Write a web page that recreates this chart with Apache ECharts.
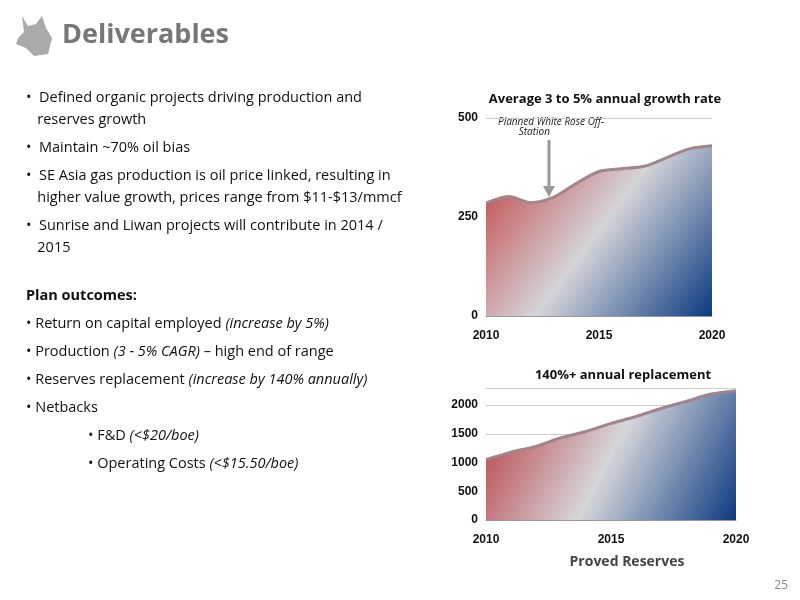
<!DOCTYPE html>
<html><head><meta charset="utf-8">
<script src="https://cdn.jsdelivr.net/npm/echarts@6/dist/echarts.min.js"></script>
<style>
body{margin:0;width:800px;height:600px;background:#fff;font-family:"Open Sans","Noto Sans",sans-serif;overflow:hidden}
#c{position:absolute;left:0;top:0;width:800px;height:600px}
.t{position:absolute;color:#111;font-size:14.5px;line-height:22px}
.h{position:absolute;left:62px;top:14px;font-size:27px;font-weight:bold;color:#777;font-family:"Open Sans",sans-serif}
</style></head><body>
<div id="c"></div>
<div class="h">Deliverables</div>
<svg style="position:absolute;left:14px;top:14px" width="40" height="44" viewBox="0 0 40 44"><path d="M8 2 L14 12 L22 10 L28 2 L32 14 L38 24 L34 40 L20 42 L12 34 L2 30 L4 24 L10 18 Z" fill="#aaa"/></svg>
<div class="t" style="left:26px;top:86px;width:410px">
<div>•&nbsp; Defined organic projects driving production and<br>&nbsp;&nbsp;&nbsp;reserves growth</div>
<div style="margin-top:6px">•&nbsp; Maintain ~70% oil bias</div>
<div style="margin-top:6px">•&nbsp; SE Asia gas production is oil price linked, resulting in<br>&nbsp;&nbsp;&nbsp;higher value growth, prices range from $11-$13/mmcf</div>
<div style="margin-top:6px">•&nbsp; Sunrise and Liwan projects will contribute in 2014 /<br>&nbsp;&nbsp;&nbsp;2015</div>
<div style="margin-top:26px;font-weight:bold">Plan outcomes:</div>
<div style="margin-top:6px">• Return on capital employed <i>(increase by 5%)</i></div>
<div style="margin-top:6px">• Production <i>(3 - 5% CAGR)</i> – high end of range</div>
<div style="margin-top:6px">• Reserves replacement <i>(increase by 140% annually)</i></div>
<div style="margin-top:6px">• Netbacks</div>
<div style="margin-top:6px;padding-left:62px">• F&amp;D <i>(&lt;$20/boe)</i></div>
<div style="margin-top:6px;padding-left:62px">• Operating Costs <i>(&lt;$15.50/boe)</i></div>
</div>
<div style="position:absolute;right:12px;top:576px;font-size:12px;color:#888">25</div>
<script>
var years=['2010','2011','2012','2013','2014','2015','2016','2017','2018','2019','2020'];
var production=[285,302,286,300,335,365,372,378,400,422,430];
var reserves=[1050,1180,1280,1430,1540,1680,1800,1940,2060,2190,2250];
var prodTicks=[0,250,500];
var resTicks=[0,500,1000,1500,2000];
var shownYears=['2010','2015','2020'];
var grad=new echarts.graphic.LinearGradient(0,0,1,1,[{offset:0,color:'#c23a3c'},{offset:0.5,color:'#d4d4d8'},{offset:1,color:'#0b3a82'}]);
var grad2=new echarts.graphic.LinearGradient(0,0,1,1,[{offset:0,color:'#b8363a'},{offset:0.5,color:'#d6d6da'},{offset:1,color:'#0b3a82'}]);
var lab={fontWeight:'bold',color:'#111',fontSize:12,fontFamily:'Liberation Sans'};
function xa(i){return {type:'category',gridIndex:i,data:years,boundaryGap:false,axisLine:{lineStyle:{color:'#999'}},axisTick:{show:false},
 axisLabel:Object.assign({interval:0,formatter:function(v){return shownYears.indexOf(v)>=0?v:'';},margin:14},lab)};}
function ya(i,max,ticks){return {type:'value',gridIndex:i,min:0,max:max,interval:250*(i?2:1),axisLine:{show:false},axisTick:{show:false},
 splitLine:{lineStyle:{color:'#ccc'}},axisLabel:Object.assign({formatter:function(v){return ticks.indexOf(v)>=0?v:'';}},lab)};}
var chart=echarts.init(document.getElementById('c'));
chart.setOption({
 animation:false,
 title:[{text:'Average 3 to 5% annual growth rate',left:600,textAlign:'center',top:88,textStyle:{fontSize:13,fontWeight:'bold',color:'#111',fontFamily:'Open Sans'}},
  {text:'140%+ annual replacement',left:618,textAlign:'center',top:364,textStyle:{fontSize:13,fontWeight:'bold',color:'#111',fontFamily:'Open Sans'}},
  {text:'Proved Reserves',left:622,textAlign:'center',top:550,textStyle:{fontSize:14,fontWeight:'bold',color:'#444',fontFamily:'Open Sans'}}],
 grid:[{left:486,top:118,width:226,height:198},{left:486,top:387.75,width:250,height:132.25}],
 xAxis:[xa(0),xa(1)],
 yAxis:[ya(0,500,prodTicks),ya(1,2300,resTicks)],
 series:[
  {type:'line',xAxisIndex:0,yAxisIndex:0,data:production,smooth:0.3,symbol:'none',lineStyle:{color:'#a0858a',width:3},areaStyle:{color:grad,opacity:1}},
  {type:'line',xAxisIndex:1,yAxisIndex:1,data:reserves,smooth:0.3,symbol:'none',lineStyle:{color:'#a0858a',width:3},areaStyle:{color:grad2,opacity:1}}
 ],
 graphic:[
  {type:'text',left:498,top:117,style:{text:'Planned White Rose Off-\n        Station',font:'italic 10px "Open Sans"',fill:'#222'}},
  {type:'line',shape:{x1:549,y1:140,x2:549,y2:190},style:{stroke:'#999',lineWidth:3}},
  {type:'polygon',shape:{points:[[543,186],[555,186],[549,197]]},style:{fill:'#999'}}
 ]
});
</script></body></html>
